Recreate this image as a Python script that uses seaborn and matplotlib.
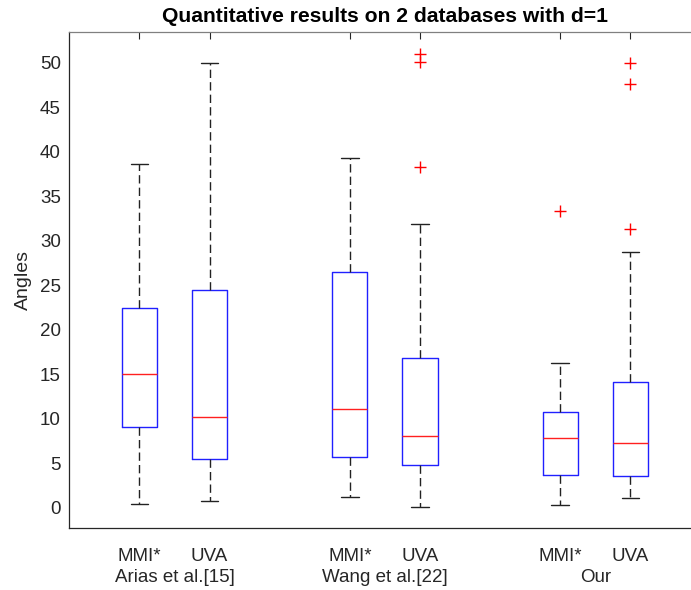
import matplotlib
matplotlib.use("Agg")
import matplotlib.pyplot as plt
import seaborn as sns

# ---- data ----
groups = ["Arias et al.[15]", "Wang et al.[22]", "Our"]
datasets = ["MMI*", "UVA"]
whislo = [0.48, 0.79, 1.27, 0.07, 0.30, 1.16]
q1 = [9.10, 5.54, 5.77, 4.83, 3.70, 3.59]
med = [15.10, 10.18, 11.10, 8.12, 7.90, 7.26]
q3 = [22.50, 24.50, 26.46, 16.88, 10.74, 14.15]
whishi = [38.60, 50.00, 39.26, 31.90, 16.28, 28.80]
fliers = [[], [], [], [50.94, 50.04, 38.30], [33.35], [50.00, 47.60, 31.30]]
yticks = [0, 5, 10, 15, 20, 25, 30, 35, 40, 45, 50]

sns.set_style("white")
plt.rcParams["font.family"] = ["Liberation Sans", "DejaVu Sans"]

fig = plt.figure(figsize=(6.91, 5.90), dpi=100)
ax = fig.add_axes([0.1003, 0.1046, 0.9135, 0.8412])

positions = []
labels = []
stats = []
for g in range(len(groups)):
    for d in range(len(datasets)):
        i = g * len(datasets) + d
        positions.append(g * 3 + d + 1)
        labels.append(datasets[d])
        stats.append(dict(whislo=whislo[i], q1=q1[i], med=med[i], q3=q3[i],
                          whishi=whishi[i], fliers=fliers[i], label=datasets[d]))

ax.bxp(stats, positions=positions, widths=0.5, showfliers=True,
       boxprops=dict(color="#2020ff", linewidth=1.0),
       medianprops=dict(color="#ff2020", linewidth=1.0),
       whiskerprops=dict(color="#222222", linewidth=1.0, linestyle=(0, (6, 3))),
       capprops=dict(color="#222222", linewidth=1.0),
       flierprops=dict(marker="+", markeredgecolor="#ff0000", markersize=9,
                       markeredgewidth=1.0, linestyle="none"),
       capwidths=0.25)

ax.set_xlim(0, 9)
ax.set_ylim(-2.28, 53.45)
ax.set_yticks(yticks)
ax.set_xticks(positions)
ax.set_xticklabels(labels)
for g, name in enumerate(groups):
    ax.text(g * 3 + 1.5, -0.109, name, transform=ax.get_xaxis_transform(),
            ha="center", va="baseline", fontsize=13.5, color="#262626")

ax.tick_params(axis="both", direction="in", length=5, width=0.8,
               colors="#262626", labelsize=13.5, top=True, right=True)
ax.tick_params(axis="x", pad=14)
ax.tick_params(axis="y", pad=6)
for s in ax.spines.values():
    s.set_color("#262626")
    s.set_linewidth(0.9)
ax.spines["top"].set_color("#808080")

ax.set_ylabel("Angles", fontsize=14, color="#262626", labelpad=6)
ax.set_title("Quantitative results on 2 databases with d=1", fontsize=15.2,
             fontweight="bold", color="black", pad=7)

fig.savefig("out.png", dpi=100)
